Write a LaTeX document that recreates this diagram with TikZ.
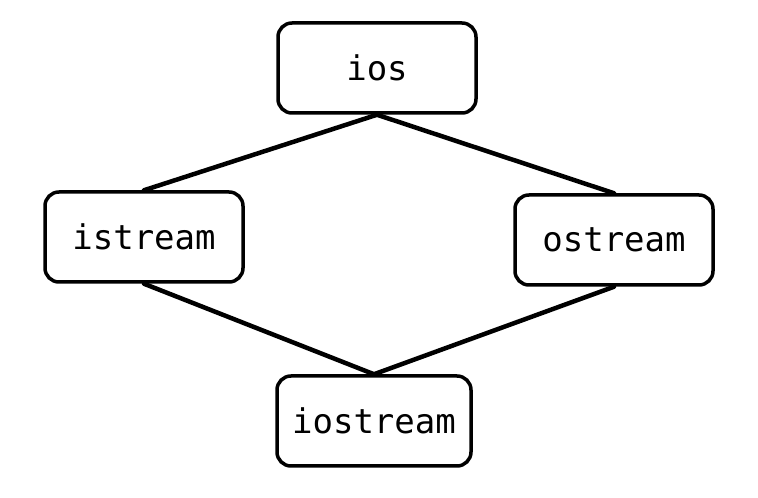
\documentclass[tikz,border=0pt]{standalone}
\usepackage{fontspec}
\setmonofont{DejaVu Sans Mono}
\usetikzlibrary{positioning, calc}

\begin{document}
\begin{tikzpicture}[x=1pt,y=1pt]
  \tikzstyle{class} = [rectangle, rounded corners=14pt, draw, line width=3.5pt, fill=white,
    minimum width=198pt, minimum height=90pt, inner sep=0pt,
    font=\ttfamily\fontsize{34}{40}\selectfont]
  \tikzstyle{herite} = [line width=4.5pt, line cap=round]
  \useasboundingbox (0,0) rectangle (758,498);
  \node[class] at (377,430) (ios) {ios};
  \node[class] at (144,261) (istream) {istream};
  \node[class] at (614,258) (ostream) {ostream};
  \node[class, minimum width=194pt] at (374,77) (iostream) {iostream};
  \draw[herite] (ios.south) -- (istream.north);
  \draw[herite] (ios.south) -- (ostream.north);
  \draw[herite] (istream.south) -- (iostream.north);
  \draw[herite] (ostream.south) -- (iostream.north);
\end{tikzpicture}
\end{document}
